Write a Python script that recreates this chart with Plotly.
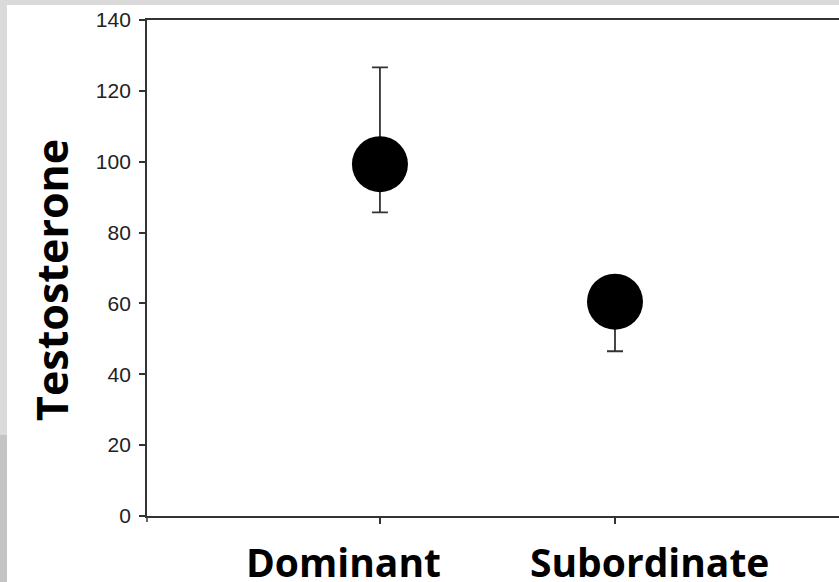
import plotly.graph_objects as go

# Data
categories = ["Dominant", "Subordinate"]
testosterone = [99.3, 60.5]
err_plus = [27.3, 0.0]
err_minus = [13.6, 14.0]
y_ticks = [0, 20, 40, 60, 80, 100, 120, 140]
y_label = "Testosterone"

W, H = 839, 582
L, R, T, B = 147, 0, 20, 66
pw = W - L - R
ph = H - T - B

def px_x(px):
    return (px - L) / pw

def px_y(py):
    return (H - B - py) / ph

x_pos = list(range(len(categories)))

fig = go.Figure()
fig.add_trace(go.Scatter(
    x=x_pos, y=testosterone,
    mode="markers",
    marker=dict(size=56, color="black", line=dict(width=0)),
    error_y=dict(type="data", symmetric=False, array=err_plus, arrayminus=err_minus,
                 thickness=1.8, width=8, color="#333333"),
    showlegend=False,
))

ann = []
label_x_px = [343, 649]
for cat, lx in zip(categories, label_x_px):
    ann.append(dict(text=cat, xref="paper", yref="paper", x=px_x(lx), y=px_y(533),
                    xanchor="center", yanchor="top", showarrow=False,
                    font=dict(family="Open Sans", size=39, color="black", weight="bold")))
ann.append(dict(text=y_label, xref="paper", yref="paper", x=px_x(51), y=px_y(280),
                xanchor="center", yanchor="middle", showarrow=False, textangle=-90,
                font=dict(family="Open Sans", size=43, color="black", weight="bold")))

light = "#dadada"
dark = "#c4c4c4"
shapes = [
    dict(type="rect", xref="paper", yref="paper", x0=px_x(0), x1=px_x(W), y0=px_y(5), y1=px_y(0),
         fillcolor=light, line=dict(width=0)),
    dict(type="rect", xref="paper", yref="paper", x0=px_x(0), x1=px_x(7), y0=px_y(435), y1=px_y(0),
         fillcolor=light, line=dict(width=0)),
    dict(type="rect", xref="paper", yref="paper", x0=px_x(0), x1=px_x(7), y0=px_y(H), y1=px_y(435),
         fillcolor=dark, line=dict(width=0)),
    dict(type="line", xref="paper", yref="paper", x0=0, x1=0, y0=0, y1=px_y(H - B + 6),
         line=dict(color="#333333", width=1.5)),
]

fig.update_layout(
    width=W, height=H,
    margin=dict(l=L, r=R, t=T, b=B, pad=0),
    paper_bgcolor="white", plot_bgcolor="white",
    annotations=ann, shapes=shapes,
    xaxis=dict(range=[-0.991, 1.953], tickvals=x_pos, showticklabels=False,
               ticks="outside", ticklen=6, tickwidth=1.5, tickcolor="#333333",
               showline=True, linecolor="#333333", linewidth=1.8, mirror=True,
               showgrid=False, zeroline=False),
    yaxis=dict(range=[0, 140], tickvals=y_ticks,
               ticks="outside", ticklen=6, tickwidth=1.5, tickcolor="#333333",
               showline=True, linecolor="#333333", linewidth=1.8,
               showgrid=False, zeroline=False, ticklabelstandoff=4,
               tickfont=dict(family="Liberation Sans, Arial", size=21, color="#222222")),
)

fig.write_html("out.html", config={"displayModeBar": False},
               post_script="document.body.style.margin='0';document.body.style.overflow='hidden';")
